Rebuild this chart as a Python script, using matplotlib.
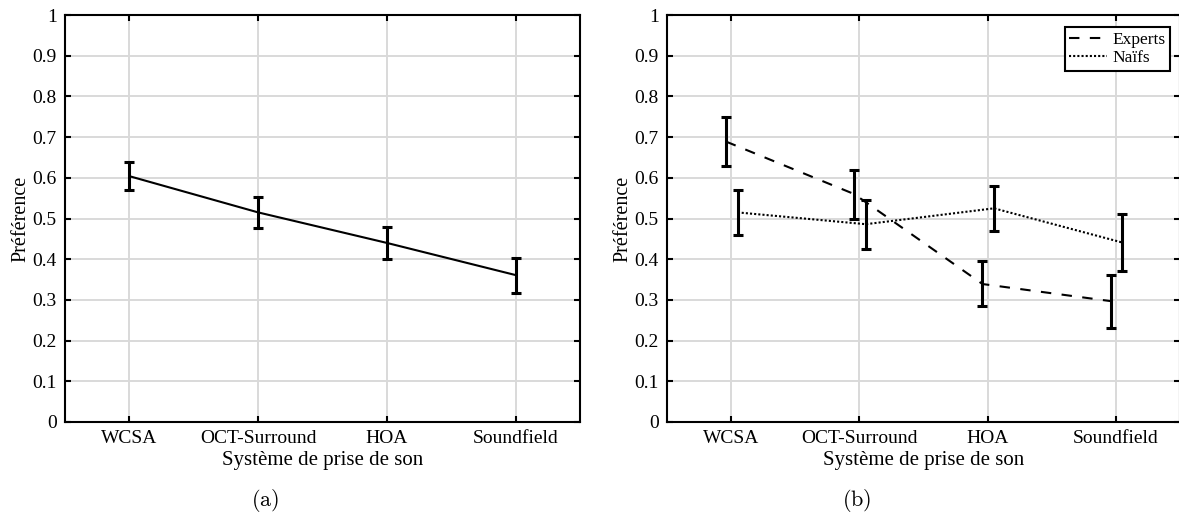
import matplotlib
matplotlib.use('Agg')
import matplotlib.pyplot as plt
import numpy as np

plt.rcParams['font.family'] = ['Liberation Serif', 'DejaVu Serif']
plt.rcParams['mathtext.fontset'] = 'cm'

systemes = ['WCSA', 'OCT-Surround', 'HOA', 'Soundfield']

# (a) tous les sujets
pref_tous = [0.604, 0.515, 0.440, 0.361]
bas_tous = [0.570, 0.477, 0.400, 0.318]
haut_tous = [0.640, 0.552, 0.480, 0.402]

# (b) experts / naifs
pref_experts = [0.689, 0.560, 0.339, 0.297]
bas_experts = [0.630, 0.500, 0.285, 0.230]
haut_experts = [0.750, 0.619, 0.395, 0.360]

pref_naifs = [0.515, 0.486, 0.525, 0.441]
bas_naifs = [0.460, 0.425, 0.470, 0.370]
haut_naifs = [0.570, 0.545, 0.580, 0.510]

W, H = 1179, 517
fig = plt.figure(figsize=(W / 100, H / 100), dpi=100)
ax1 = fig.add_axes([65 / W, 1 - 422 / H, (580 - 65) / W, (422 - 15) / H])
ax2 = fig.add_axes([667 / W, 1 - 422 / H, (1180 - 667) / W, (422 - 15) / H])

x = np.arange(1, 5)


def style(ax):
    ax.set_xlim(0.5, 4.5)
    ax.set_ylim(0, 1)
    ax.set_xticks(x)
    ax.set_xticklabels(systemes)
    ax.set_yticks(np.arange(0, 1.01, 0.1))
    ax.set_yticklabels(['0'] + ['%.1f' % v for v in np.arange(0.1, 0.95, 0.1)] + ['1'])
    ax.grid(True, color='#d9d9d9', linewidth=1.4)
    ax.set_axisbelow(True)
    ax.tick_params(direction='in', top=True, right=True, length=4, width=1.5,
                   labelsize=14, pad=6)
    for s in ax.spines.values():
        s.set_linewidth(1.5)
    ax.set_xlabel('Système de prise de son', fontsize=15, labelpad=3)
    ax.set_ylabel('Préférence', fontsize=14.5, labelpad=1)


def barres(ax, xs, y, bas, haut, ls, label=None, dashes=None):
    y = np.array(y)
    err = [y - np.array(bas), np.array(haut) - y]
    kw = {}
    if dashes is not None:
        kw['dashes'] = dashes
    ax.plot(xs, y, color='black', linestyle=ls, linewidth=1.5, label=label, **kw)
    ax.errorbar(xs, y, yerr=err, fmt='none', ecolor='black', elinewidth=2.2,
                capsize=3.5, capthick=2.2)


style(ax1)
barres(ax1, x, pref_tous, bas_tous, haut_tous, '-')

style(ax2)
barres(ax2, x - 0.04, pref_experts, bas_experts, haut_experts, '--', 'Experts', dashes=(5, 5))
barres(ax2, x + 0.05, pref_naifs, bas_naifs, haut_naifs, ':', 'Naïfs', dashes=(1, 1))
leg = ax2.legend(loc='upper right', bbox_to_anchor=(0.98, 0.97), fontsize=12.5, frameon=True,
                 fancybox=False, edgecolor='black', framealpha=1, handlelength=2.2,
                 handletextpad=0.3, borderpad=0.25, labelspacing=0.15, borderaxespad=0)
leg.get_frame().set_linewidth(1.5)

fig.text(265 / W, 1 - 501 / H, r'$(\mathrm{a})$', ha='center', va='center', fontsize=16)
fig.text(857 / W, 1 - 501 / H, r'$(\mathrm{b})$', ha='center', va='center', fontsize=16)

fig.savefig('out.png', dpi=100)
